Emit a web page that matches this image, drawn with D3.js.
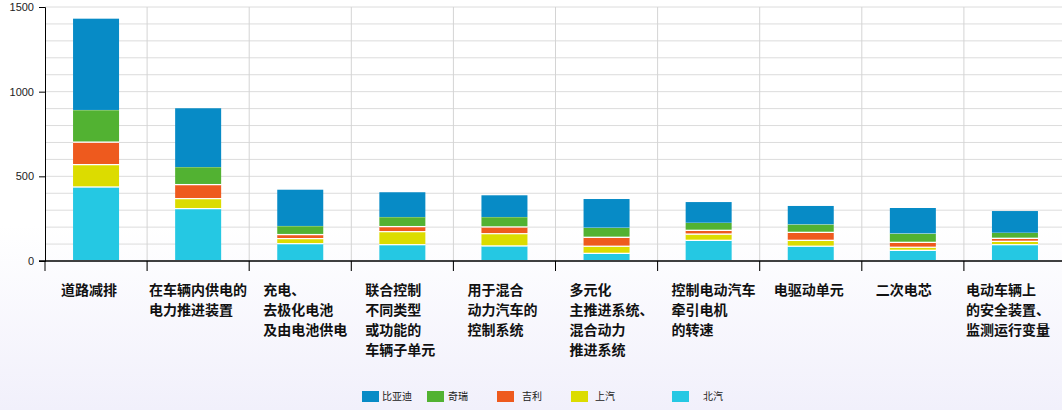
<!DOCTYPE html>
<html><head><meta charset="utf-8">
<script src="https://cdn.jsdelivr.net/npm/d3@7.9.0/dist/d3.min.js"></script>
<style>
body{margin:0;background:linear-gradient(#fff 0%,#fff 55%,#f1f0fb 100%);width:1062px;height:410px;overflow:hidden;font-family:"Noto Sans CJK SC",sans-serif}
</style></head><body><svg width="1062" height="410"></svg>
<script>
const categories = [
  ['道路减排'], ['在车辆内供电的', '电力推进装置'], ['充电、', '去极化电池', '及由电池供电'],
  ['联合控制', '不同类型', '或功能的', '车辆子单元'], ['用于混合', '动力汽车的', '控制系统'],
  ['多元化', '主推进系统、', '混合动力', '推进系统'], ['控制电动汽车', '牵引电机', '的转速'],
  ['电驱动单元'], ['二次电芯'], ['电动车辆上', '的安全装置、', '监测运行变量']
];
const seriesNames = ['北汽', '上汽', '吉利', '奇瑞', '比亚迪'];
const beiqi = [435, 307, 100, 94, 87, 43, 120, 85, 61, 94];
const shangqi = [132, 59, 30, 77, 72, 42, 37, 35, 18, 20];
const jili = [133, 83, 24, 30, 40, 53, 22, 47, 29, 18];
const qirui = [192, 106, 53, 59, 61, 59, 47, 50, 55, 35];
const byd = [539, 347, 214, 146, 128, 169, 122, 108, 150, 128];
const colors = ['#25c8e3', '#dcdc00', '#ee5a1e', '#52b232', '#078bc6'];
const yTicks = [0, 500, 1000, 1500];

const series = [beiqi, shangqi, jili, qirui, byd];
const rows = categories.map((c, i) => { const r = { i }; series.forEach((s, k) => r[k] = s[i]); return r; });
const stack = d3.stack().keys(d3.range(5))(rows);

const svg = d3.select('svg');
const m = { l: 45, t: 7, b: 149 };
const W = 1066, H = 410;
const x = d3.scaleBand().domain(d3.range(10)).range([m.l, W]);
const y = d3.scaleLinear().domain([0, 1500]).range([H - m.b, m.t]);

const g = svg.append('g');
g.selectAll('.hg').data(d3.range(100, 1501, 100)).join('line')
  .attr('x1', m.l).attr('x2', 1062).attr('y1', d => y(d)).attr('y2', d => y(d))
  .attr('stroke', '#dcdcdc');
g.selectAll('.vg').data(d3.range(1, 10)).join('line')
  .attr('x1', d => x(d)).attr('x2', d => x(d)).attr('y1', m.t).attr('y2', H - m.b + 10)
  .attr('stroke', '#d4d4d4');

const bw = 46;
stack.forEach((layer, k) => {
  g.selectAll(null).data(layer).join('rect')
    .attr('x', (d, i) => x(i) + (x.bandwidth() - bw) / 2)
    .attr('y', d => y(d[1]))
    .attr('width', bw)
    .attr('height', d => Math.max(0, y(d[0]) - y(d[1]) - (k < 4 ? 1 : 0)))
    .attr('fill', colors[k]);
  // white separators
  if (k < 4) g.selectAll(null).data(layer).join('line')
    .attr('x1', (d, i) => x(i) + (x.bandwidth() - bw) / 2).attr('x2', (d, i) => x(i) + (x.bandwidth() + bw) / 2)
    .attr('y1', d => y(d[1]) - 0.5).attr('y2', d => y(d[1]) - 0.5).attr('stroke', '#fff').attr('stroke-width', 1.5);
});

const ya = svg.append('g').attr('transform', `translate(${m.l},0)`)
  .call(d3.axisLeft(y).tickValues(yTicks).tickFormat(d3.format('d')).tickSize(6).tickPadding(5));
ya.select('.domain').attr('stroke', '#000');
ya.selectAll('text').attr('font-size', 11).attr('font-family', 'Arial, sans-serif').attr('fill', '#222');

svg.append('line').attr('x1', m.l - 6).attr('x2', 1062).attr('y1', y(0)).attr('y2', y(0)).attr('stroke', '#000').attr('stroke-width', 1.5);
svg.selectAll('.xt').data(d3.range(0, 10)).join('line')
  .attr('x1', d => x(d)).attr('x2', d => x(d)).attr('y1', y(0)).attr('y2', y(0) + 10).attr('stroke', '#000');

categories.forEach((lines, i) => {
  const lx = i === 1 || i === 9 ? x(i) + 2 : x(i) + (i === 0 ? 16 : 14);
  const t = svg.append('text').attr('font-size', 14).attr('font-weight', 'bold').attr('fill', '#111');
  lines.forEach((l, j) => t.append('tspan').attr('x', lx).attr('y', 295 + j * 20).text(l));
});

const legendX = [362, 427, 497, 571, 672];
const nameX = [382, 448, 522, 595, 703];
[4, 3, 2, 1, 0].forEach((k, j) => {
  svg.append('rect').attr('x', legendX[j]).attr('y', 391).attr('width', 17).attr('height', 11).attr('fill', colors[k]);
  svg.append('text').attr('x', nameX[j]).attr('y', 400).attr('font-size', 10).attr('fill', '#222').text(seriesNames[k]);
});
</script></body></html>
